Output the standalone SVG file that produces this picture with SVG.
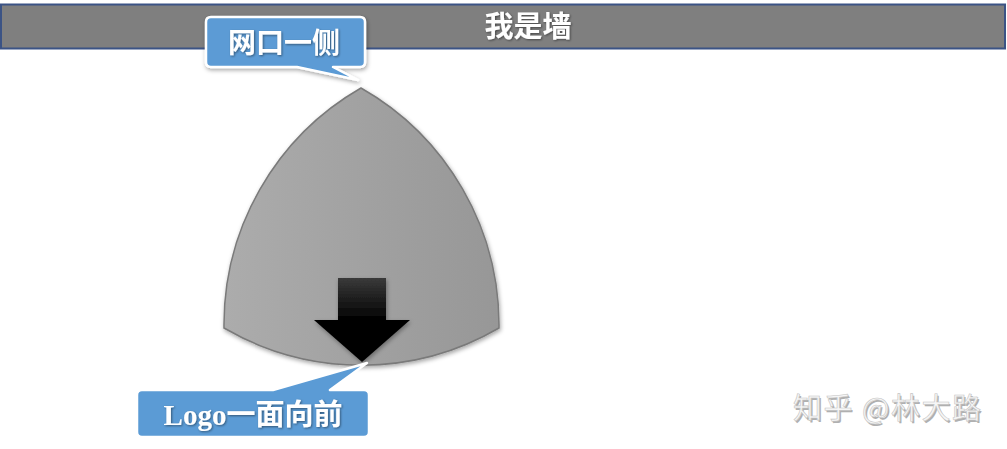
<svg xmlns="http://www.w3.org/2000/svg" width="1007" height="449" viewBox="0 0 1007 449">
<defs>
  <linearGradient id="bodyGrad" x1="0" y1="0" x2="1" y2="0">
    <stop offset="0" stop-color="#acacac"/>
    <stop offset="1" stop-color="#979797"/>
  </linearGradient>
  <linearGradient id="shaftGrad" x1="0" y1="0" x2="0" y2="1">
    <stop offset="0" stop-color="#3a3a3a"/>
    <stop offset="1" stop-color="#000000"/>
  </linearGradient>
  <filter id="shadow" x="-20%" y="-20%" width="140%" height="140%">
    <feDropShadow dx="1" dy="2" stdDeviation="2" flood-color="#000" flood-opacity="0.35"/>
  </filter>
  <filter id="tshadow" x="-10%" y="-10%" width="120%" height="130%">
    <feDropShadow dx="1" dy="1" stdDeviation="0.8" flood-color="#000" flood-opacity="0.45"/>
  </filter>
</defs>
<style>
  .callout { fill: #5b9bd5; stroke: #ffffff; stroke-width: 2.5; stroke-linejoin: round; }
  .label { fill: #ffffff; font-family: "Liberation Serif", "Noto Sans CJK SC", serif; font-weight: bold; }
  .wm { font-family: "Noto Sans CJK SC", "Liberation Sans", sans-serif; font-size: 29px; letter-spacing: 1.5px; }
</style>

<g id="wall">
  <rect x="1" y="4.5" width="1004" height="44" fill="#7f7f7f" stroke="#3b5385" stroke-width="2"/>
  <text class="label" x="528" y="37" font-size="29" text-anchor="middle" filter="url(#tshadow)">我是墙</text>
</g>

<g id="body">
  <path d="M361,88 A273,273 0 0 0 224,328 A273,273 0 0 0 499,328 A273,273 0 0 0 361,88 Z" fill="url(#bodyGrad)" stroke="#7a7a7a" stroke-width="1.5" filter="url(#shadow)"/>
</g>

<g id="arrow" filter="url(#shadow)">
  <rect x="338" y="278" width="48" height="43" fill="url(#shaftGrad)"/>
  <polygon points="314,320 410,320 362,362" fill="#000000"/>
</g>

<g id="callout-top">
  <path class="callout" d="M211,17 H360 Q365,17 365,22 V62 Q365,67 360,67 H333 L358,80 L297,67 H211 Q206,67 206,62 V22 Q206,17 211,17 Z" filter="url(#shadow)"/>
  <text class="label" x="284" y="53" font-size="28" text-anchor="middle" filter="url(#tshadow)">网口一侧</text>
</g>

<g id="callout-bottom">
  <path class="callout" d="M142,390 H273 L367,363 L330,390 H364 Q369,390 369,395 V432 Q369,437 364,437 H142 Q137,437 137,432 V395 Q137,390 142,390 Z"/>
  <text class="label" x="253" y="425" font-size="29" text-anchor="middle" filter="url(#tshadow)">Logo一面向前</text>
</g>

<g id="watermark">
  <text class="wm" x="793" y="419" fill="#b0b0b0" transform="translate(1.5,1.5)">知乎 @林大路</text>
  <text class="wm" x="793" y="419" fill="#f6f6f6" stroke="#c4c4c4" stroke-width="0.6">知乎 @林大路</text>
</g>
</svg>
